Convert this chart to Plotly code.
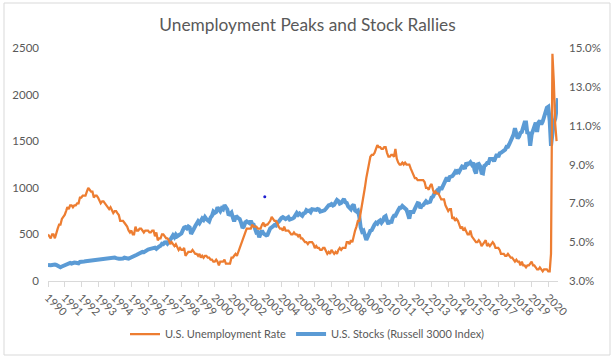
import pandas as pd
import plotly.graph_objects as go

# ---- data ----
unemployment_rate = [
    # 1990
    5.4, 5.3, 5.2, 5.4, 5.4, 5.2, 5.5, 5.7, 5.9, 5.9, 6.2, 6.3,
    # 1991
    6.4, 6.6, 6.8, 6.7, 6.9, 6.9, 6.8, 6.9, 6.9, 7.0, 7.0, 7.3,
    # 1992
    7.3, 7.4, 7.4, 7.4, 7.6, 7.8, 7.7, 7.6, 7.6, 7.3, 7.4, 7.4,
    # 1993
    7.3, 7.1, 7.0, 7.1, 7.1, 7.0, 6.9, 6.8, 6.7, 6.8, 6.6, 6.5,
    # 1994
    6.6, 6.6, 6.5, 6.4, 6.1, 6.1, 6.1, 6.0, 5.9, 5.8, 5.6, 5.5,
    # 1995
    5.6, 5.4, 5.4, 5.8, 5.6, 5.6, 5.7, 5.7, 5.6, 5.5, 5.6, 5.6,
    # 1996
    5.6, 5.5, 5.5, 5.6, 5.6, 5.3, 5.5, 5.1, 5.2, 5.2, 5.4, 5.4,
    # 1997
    5.3, 5.2, 5.2, 5.1, 4.9, 5.0, 4.9, 4.8, 4.9, 4.7, 4.6, 4.7,
    # 1998
    4.6, 4.6, 4.7, 4.3, 4.4, 4.5, 4.5, 4.5, 4.6, 4.5, 4.4, 4.4,
    # 1999
    4.3, 4.4, 4.2, 4.3, 4.2, 4.3, 4.3, 4.2, 4.2, 4.1, 4.1, 4.0,
    # 2000
    4.0, 4.1, 4.0, 3.8, 4.0, 4.0, 4.0, 4.1, 3.9, 3.9, 3.9, 3.9,
    # 2001
    4.2, 4.2, 4.3, 4.4, 4.3, 4.5, 4.6, 4.9, 5.0, 5.3, 5.5, 5.7,
    # 2002
    5.7, 5.7, 5.7, 5.9, 5.8, 5.8, 5.8, 5.7, 5.7, 5.7, 5.9, 6.0,
    # 2003
    5.8, 5.9, 5.9, 6.0, 6.1, 6.3, 6.2, 6.1, 6.1, 6.0, 5.8, 5.7,
    # 2004
    5.7, 5.6, 5.8, 5.6, 5.6, 5.6, 5.5, 5.4, 5.4, 5.5, 5.4, 5.4,
    # 2005
    5.3, 5.4, 5.2, 5.2, 5.1, 5.0, 5.0, 4.9, 5.0, 5.0, 5.0, 4.9,
    # 2006
    4.7, 4.8, 4.7, 4.7, 4.6, 4.6, 4.7, 4.7, 4.5, 4.4, 4.5, 4.4,
    # 2007
    4.6, 4.5, 4.4, 4.5, 4.4, 4.6, 4.7, 4.6, 4.7, 4.7, 4.7, 5.0,
    # 2008
    5.0, 4.9, 5.1, 5.0, 5.4, 5.6, 5.8, 6.1, 6.1, 6.5, 6.8, 7.3,
    # 2009
    7.8, 8.3, 8.7, 9.0, 9.4, 9.5, 9.5, 9.6, 9.8, 10.0, 9.9, 9.9,
    # 2010
    9.8, 9.8, 9.9, 9.9, 9.6, 9.4, 9.4, 9.5, 9.5, 9.4, 9.8, 9.3,
    # 2011
    9.1, 9.0, 9.0, 9.1, 9.0, 9.1, 9.0, 9.0, 9.0, 8.8, 8.6, 8.5,
    # 2012
    8.3, 8.3, 8.2, 8.2, 8.2, 8.2, 8.2, 8.1, 7.8, 7.8, 7.7, 7.9,
    # 2013
    8.0, 7.7, 7.5, 7.6, 7.5, 7.5, 7.3, 7.2, 7.2, 7.2, 6.9, 6.7,
    # 2014
    6.6, 6.7, 6.7, 6.2, 6.3, 6.1, 6.2, 6.1, 5.9, 5.7, 5.8, 5.6,
    # 2015
    5.7, 5.5, 5.4, 5.4, 5.6, 5.3, 5.2, 5.1, 5.0, 5.0, 5.1, 5.0,
    # 2016
    4.8, 4.9, 5.0, 5.1, 4.8, 4.9, 4.8, 4.9, 5.0, 4.9, 4.7, 4.7,
    # 2017
    4.7, 4.6, 4.4, 4.4, 4.4, 4.3, 4.3, 4.4, 4.3, 4.2, 4.2, 4.1,
    # 2018
    4.0, 4.1, 4.0, 4.0, 3.8, 4.0, 3.8, 3.8, 3.7, 3.8, 3.8, 3.9,
    # 2019
    4.0, 3.8, 3.8, 3.7, 3.6, 3.6, 3.7, 3.6, 3.5, 3.6, 3.6, 3.6,
    # 2020
    3.5, 3.5, 4.4, 14.7, 13.3, 11.1, 10.2,
]

russell_3000 = [
    # 1990
    172, 168, 170, 172, 178, 176, 172, 160, 150, 148, 155, 162,
    # 1991
    172, 185, 190, 190, 195, 188, 195, 198, 196, 198, 190, 205,
    # 1992
    210, 214, 210, 212, 214, 210, 216, 214, 218, 220, 226, 228,
    # 1993
    230, 232, 236, 232, 236, 238, 238, 244, 244, 248, 244, 247,
    # 1994
    252, 246, 236, 238, 240, 236, 242, 250, 246, 248, 240, 247,
    # 1995
    252, 260, 266, 272, 282, 290, 300, 302, 312, 310, 322, 330,
    # 1996
    338, 342, 346, 352, 360, 358, 345, 352, 370, 378, 400, 396,
    # 1997
    415, 416, 400, 418, 445, 462, 490, 470, 498, 480, 495, 505,
    # 1998
    510, 545, 572, 578, 565, 585, 575, 505, 525, 560, 590, 625,
    # 1999
    640, 620, 645, 670, 655, 685, 665, 655, 640, 680, 700, 745,
    # 2000
    730, 740, 790, 770, 750, 780, 770, 815, 790, 770, 705, 715,
    # 2001
    735, 680, 640, 685, 690, 675, 665, 625, 570, 585, 630, 640,
    # 2002
    630, 620, 645, 610, 605, 565, 520, 525, 470, 510, 540, 510,
    # 2003
    500, 490, 495, 535, 565, 575, 585, 600, 595, 630, 635, 665,
    # 2004
    675, 685, 675, 665, 675, 685, 660, 662, 670, 680, 710, 730,
    # 2005
    710, 725, 712, 700, 725, 730, 760, 750, 755, 740, 770, 770,
    # 2006
    760, 762, 772, 768, 745, 748, 745, 758, 775, 798, 812, 815,
    # 2007
    825, 810, 818, 845, 870, 858, 830, 838, 865, 880, 845, 838,
    # 2008
    800, 775, 770, 805, 820, 755, 745, 755, 690, 575, 530, 540,
    # 2009
    495, 440, 470, 515, 540, 545, 585, 605, 625, 615, 640, 650,
    # 2010
    625, 645, 685, 695, 645, 610, 650, 620, 675, 700, 700, 745,
    # 2011
    760, 785, 785, 805, 795, 780, 765, 720, 670, 740, 735, 740,
    # 2012
    775, 810, 835, 830, 780, 810, 815, 835, 855, 840, 845, 850,
    # 2013
    895, 905, 935, 950, 970, 955, 1010, 980, 1015, 1060, 1085, 1110,
    # 2014
    1070, 1115, 1120, 1125, 1145, 1170, 1150, 1195, 1175, 1205, 1230, 1225,
    # 2015
    1205, 1270, 1250, 1260, 1275, 1250, 1270, 1190, 1155, 1250, 1255, 1230,
    # 2016
    1160, 1155, 1235, 1245, 1265, 1265, 1310, 1310, 1310, 1285, 1340, 1360,
    # 2017
    1330, 1370, 1375, 1385, 1395, 1410, 1440, 1440, 1470, 1500, 1545, 1570,
    # 2018
    1640, 1560, 1530, 1550, 1590, 1600, 1660, 1700, 1700, 1580, 1600, 1450,
    # 2019
    1570, 1620, 1640, 1700, 1600, 1700, 1720, 1680, 1710, 1750, 1810, 1860,
    # 2020
    1870, 1720, 1450, 1620, 1700, 1740, 1850, 1960,
]

stray_point_date = ["2003-01-01"]
stray_point_value = [905]

left_ticks = [0, 500, 1000, 1500, 2000, 2500]
right_ticks = [0.03, 0.05, 0.07, 0.09, 0.11, 0.13, 0.15]
right_tick_labels = ["3.0%", "5.0%", "7.0%", "9.0%", "11.0%", "13.0%", "15.0%"]

series_names = ["U.S. Unemployment Rate", "U.S. Stocks (Russell 3000 Index)"]
title_text = "Unemployment Peaks and Stock Rallies"

ur_dates = pd.date_range("1990-01-01", periods=len(unemployment_rate), freq="MS")
st_dates = pd.date_range("1990-01-01", periods=len(russell_3000), freq="MS")
ur_frac = [v / 100 for v in unemployment_rate]

FONT = "Lato"
GREY = "#595959"

fig = go.Figure()
fig.add_trace(go.Scatter(
    x=st_dates, y=russell_3000, name=series_names[1], mode="lines",
    line=dict(color="#5B9BD5", width=4), yaxis="y",
))
fig.add_trace(go.Scatter(
    x=ur_dates, y=ur_frac, name=series_names[0], mode="lines",
    line=dict(color="#ED7D31", width=2.25), yaxis="y2",
))
fig.add_trace(go.Scatter(
    x=stray_point_date, y=stray_point_value, mode="markers",
    marker=dict(color="#1f1fd0", size=3), showlegend=False, hoverinfo="skip",
))

fig.update_layout(
    width=615, height=361,
    margin=dict(l=48, r=57, t=48, b=80, autoexpand=False),
    paper_bgcolor="white", plot_bgcolor="white",
    font=dict(family=FONT, color=GREY, size=12),
    title=dict(text=title_text, x=0.5, xref="container", xanchor="center",
               y=1 - 25 / 361, yref="container", yanchor="middle",
               font=dict(family=FONT, size=17.3, color=GREY)),
    showlegend=True,
    legend=dict(orientation="h", traceorder="reversed", xref="container",
                x=0.5, xanchor="center", yref="container", y=1 - 334 / 361,
                yanchor="middle", font=dict(family=FONT, size=11, color=GREY),
                itemwidth=30),
    xaxis=dict(
        type="date", range=["1990-01-01", "2020-08-01"],
        tick0="1990-01-01", dtick="M12", tickformat="%Y", tickangle=45,
        ticks="outside", ticklen=5, tickcolor="#D9D9D9",
        showline=True, linecolor="#D9D9D9", linewidth=1,
        showgrid=False, zeroline=False, automargin=False,
        tickfont=dict(family=FONT, size=11, color=GREY),
    ),
    yaxis=dict(
        range=[0, 2500], tickvals=left_ticks, showgrid=False, zeroline=False,
        showline=False, ticks="", ticklabelstandoff=8, automargin=False,
        tickfont=dict(family=FONT, size=11.5, color=GREY),
    ),
    yaxis2=dict(
        range=[0.03, 0.1500001], tickvals=right_ticks, ticktext=right_tick_labels,
        overlaying="y", side="right", showgrid=False, zeroline=False,
        showline=False, ticks="", ticklabelstandoff=10, automargin=False,
        tickfont=dict(family=FONT, size=11.5, color=GREY),
    ),
    shapes=[dict(type="rect", xref="paper", yref="paper",
                 x0=(4 - 48) / 510, x1=(610 - 48) / 510,
                 y0=(281 - 355) / 233, y1=(281 - 3) / 233,
                 line=dict(color="#D9D9D9", width=1), fillcolor="rgba(0,0,0,0)",
                 layer="below")],
)

fig.write_html(
    "out.html",
    config={"displayModeBar": False},
    post_script="document.body.style.margin='0';document.body.style.overflow='hidden';",
)
